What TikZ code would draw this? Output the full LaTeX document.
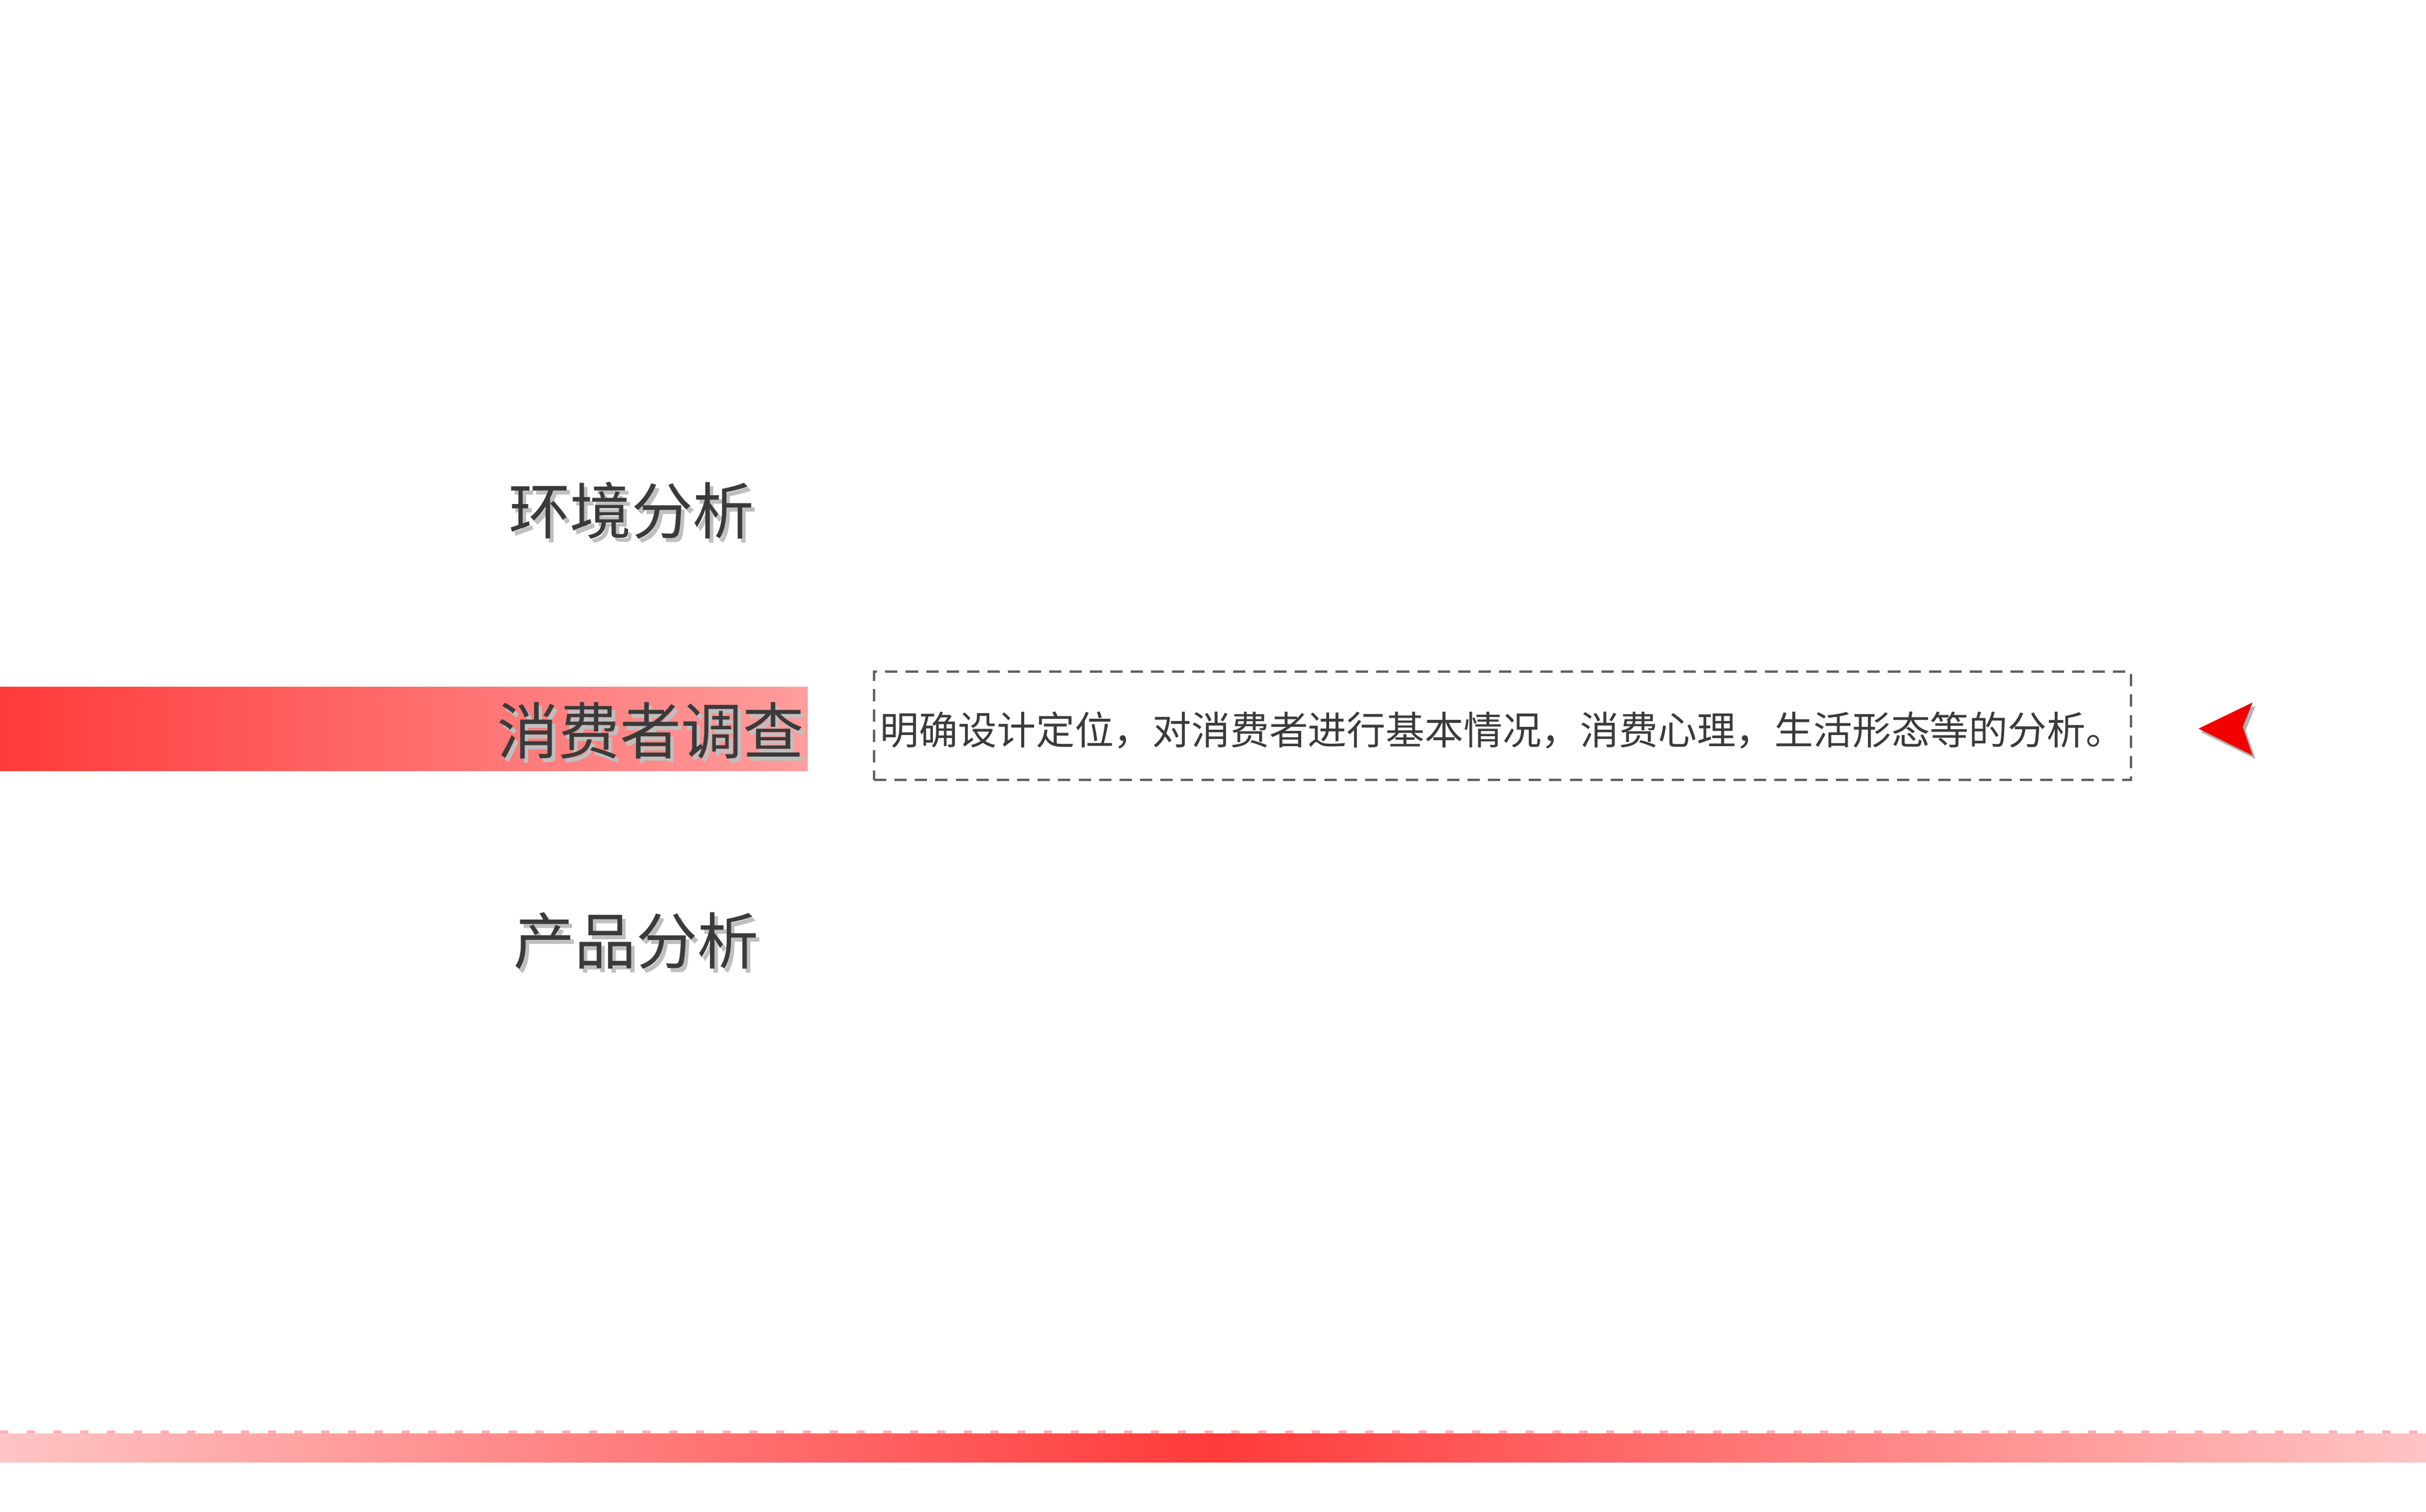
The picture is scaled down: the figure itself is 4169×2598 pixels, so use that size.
\documentclass[tikz,border=0pt]{standalone}
\usepackage{fontspec}
\newfontfamily\cjk{Noto Sans CJK SC}
\definecolor{txt}{HTML}{3A3A3A}
\definecolor{redA}{HTML}{FF3A3A}
\definecolor{pinkA}{HTML}{FFC4C4}
\tikzset{
  title/.style={font=\cjk\fontsize{30}{34}\selectfont, text=txt, inner sep=0pt},
  shadowtext/.style={font=\cjk\fontsize{30}{34}\selectfont, text=black!25, inner sep=0pt},
  desc/.style={font=\cjk\fontsize{19}{22}\selectfont, text=txt, inner sep=0pt},
  dbox/.style={draw=txt!80, line width=1.3pt, dash pattern=on 6pt off 4pt, minimum width=21.59cm, minimum height=1.86cm, inner sep=0pt}
}
\begin{document}
\begin{tikzpicture}[x=0.01cm,y=-0.01cm]
\useasboundingbox (0,0) rectangle (4169,2598);
\fill[white] (0,0) rectangle (4169,2598);
% red bar
\shade[left color=redA, right color=pinkA!80!red] (0,1180) rectangle (1388,1324);
% titles
\node[shadowtext] at (1091,884) {环境分析};
\node[title] (t1) at (1085,877) {环境分析};
\node[shadowtext] at (1124,1262) {消费者调查};
\node[title] (t2) at (1118,1255) {消费者调查};
\node[shadowtext] at (1099,1624) {产品分析};
\node[title] (t3) at (1093,1617) {产品分析};
% dashed box
\node[dbox] (box) at (2582,1247) {};
\node[desc] (d) at (2582,1255) {明确设计定位，对消费者进行基本情况，消费心理，生活形态等的分析。};
% arrow
\fill[black!30] (3782,1258) -- (3876,1213) -- (3859,1255) -- (3876,1304) -- cycle;
\fill[red!95!black] (3778,1252) -- (3871,1207) -- (3854,1249) -- (3871,1298) -- cycle;
% bottom band
\shade[left color=pinkA, right color=redA] (0,2463) rectangle (2085,2512);
\shade[left color=redA, right color=pinkA] (2085,2463) rectangle (4169,2512);
\foreach \x in {0,46,...,4169}{
  \fill[pinkA!70!redA, opacity=0.8] (\x,2458) rectangle (\x+14,2463);
}
\end{tikzpicture}
\end{document}
